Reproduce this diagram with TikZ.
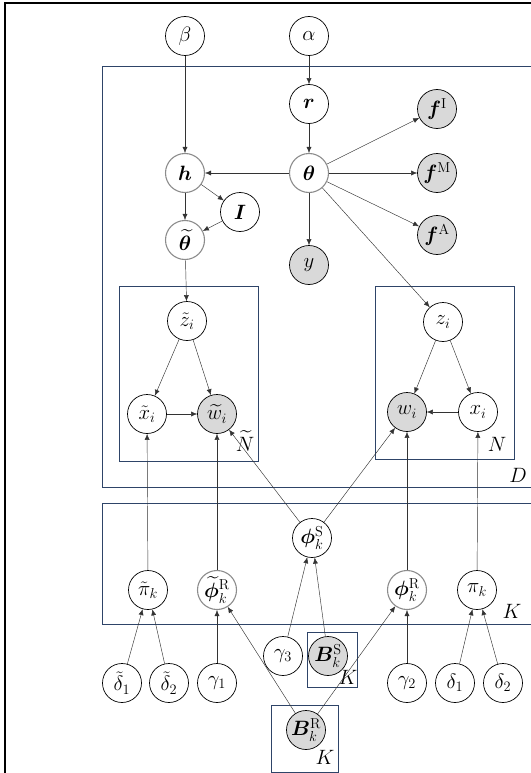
\documentclass[tikz,border=0pt]{standalone}
\usepackage{amsmath,amssymb,bm}
\usetikzlibrary{arrows.meta}
\definecolor{platec}{HTML}{2E4468}
\definecolor{obsfill}{HTML}{D9D9D9}
\tikzset{
  rv/.style={circle,draw=black,line width=0.7pt,fill=white,minimum size=39pt,inner sep=0pt,font=\huge},
  obs/.style={rv,fill=obsfill},
  grayrv/.style={rv,draw=black!45,line width=1.1pt},
  plate/.style={draw=platec,line width=1pt},
  edge/.style={draw=black!80,line width=0.45pt,-{Latex[length=6pt,width=5pt]}},
  platelabel/.style={font=\huge,inner sep=0pt}
}
\begin{document}
\begin{tikzpicture}[x=1pt,y=-1pt]
\useasboundingbox (0,0) rectangle (530,773);
% outer frame
\draw[line width=2.4pt] (5,790) -- (5,3) -- (540,3);
% plates
\draw[plate] (540,67) -- (102,67) -- (102,487) -- (540,487);
\draw[plate] (540,503) -- (102,503) -- (102,624) -- (540,624);
\draw[plate] (119,286) rectangle (258,461);
\draw[plate] (375,286) rectangle (514,459);
\draw[plate] (307,632) rectangle (357,687);
\draw[plate] (271,705) rectangle (338,772);
% plate labels
\node[platelabel] (lD) at (518,475) {$D$};
\node[platelabel] (lNt) at (245,441) {$\widetilde{N}$};
\node[platelabel] (lN) at (497,444) {$N$};
\node[platelabel] (lK) at (512,611) {$K$};
\node[platelabel] (lKS) at (348,677) {$K$};
\node[platelabel] (lKR) at (325,757) {$K$};
% nodes
\node[rv] (beta) at (185,36) {$\beta$};
\node[rv] (alpha) at (309,36) {$\alpha$};
\node[rv] (r) at (309,104) {$\bm{r}$};
\node[grayrv] (theta) at (309,173) {$\bm{\theta}$};
\node[grayrv] (h) at (185,173) {$\bm{h}$};
\node[rv] (I) at (240,212) {$\bm{I}$};
\node[grayrv] (thetat) at (185,240) {$\widetilde{\bm{\theta}}$};
\node[obs] (y) at (309,265) {$y$};
\node[obs] (fI) at (437,109) {$\bm{f}^{\mathrm{I}}$};
\node[obs] (fM) at (437,173) {$\bm{f}^{\mathrm{M}}$};
\node[obs] (fA) at (437,235) {$\bm{f}^{\mathrm{A}}$};
\node[rv] (zt) at (187,321) {$\tilde{z}_i$};
\node[rv] (xt) at (147,414) {$\tilde{x}_i$};
\node[obs] (wt) at (217,414) {$\widetilde{w}_i$};
\node[rv] (z) at (443,322) {$z_i$};
\node[obs] (w) at (407,412) {$w_i$};
\node[rv] (x) at (478,412) {$x_i$};
\node[rv] (phiS) at (312,538) {$\bm{\phi}_k^{\mathrm{S}}$};
\node[rv] (pit) at (148,590) {$\tilde{\pi}_k$};
\node[grayrv] (phitR) at (217,590) {$\widetilde{\bm{\phi}}_k^{\mathrm{R}}$};
\node[grayrv] (phiR) at (407,590) {$\bm{\phi}_k^{\mathrm{R}}$};
\node[rv] (pi) at (477,590) {$\pi_k$};
\node[rv] (g3) at (283,656) {$\gamma_3$};
\node[obs] (BS) at (328,656) {$\bm{B}_k^{\mathrm{S}}$};
\node[rv] (dt1) at (122,683) {$\tilde{\delta}_1$};
\node[rv] (dt2) at (169,683) {$\tilde{\delta}_2$};
\node[rv] (g1) at (217,683) {$\gamma_1$};
\node[rv] (g2) at (407,683) {$\gamma_2$};
\node[rv] (d1) at (455,683) {$\delta_1$};
\node[rv] (d2) at (503,683) {$\delta_2$};
\node[obs] (BR) at (306,730) {$\bm{B}_k^{\mathrm{R}}$};
% edges
\draw[edge] (beta) -- (h);
\draw[edge] (alpha) -- (r);
\draw[edge] (r) -- (theta);
\draw[edge] (theta) -- (h);
\draw[edge] (theta) -- (fI);
\draw[edge] (theta) -- (fM);
\draw[edge] (theta) -- (fA);
\draw[edge] (theta) -- (y);
\draw[edge] (theta) -- (z);
\draw[edge] (h) -- (I);
\draw[edge] (h) -- (thetat);
\draw[edge] (I) -- (thetat);
\draw[edge] (thetat) -- (zt);
\draw[edge] (zt) -- (xt);
\draw[edge] (zt) -- (wt);
\draw[edge] (xt) -- (wt);
\draw[edge] (z) -- (w);
\draw[edge] (z) -- (x);
\draw[edge] (x) -- (w);
\draw[edge] (pit) -- (xt);
\draw[edge] (phitR) -- (wt);
\draw[edge] (phiS) -- (wt);
\draw[edge] (phiS) -- (w);
\draw[edge] (phiR) -- (w);
\draw[edge] (pi) -- (x);
\draw[edge] (dt1) -- (pit);
\draw[edge] (dt2) -- (pit);
\draw[edge] (g1) -- (phitR);
\draw[edge] (g3) -- (phiS);
\draw[edge] (BS) -- (phiS);
\draw[edge] (BR) -- (phitR);
\draw[edge] (BR) -- (phiR);
\draw[edge] (g2) -- (phiR);
\draw[edge] (d1) -- (pi);
\draw[edge] (d2) -- (pi);
\end{tikzpicture}
\end{document}
